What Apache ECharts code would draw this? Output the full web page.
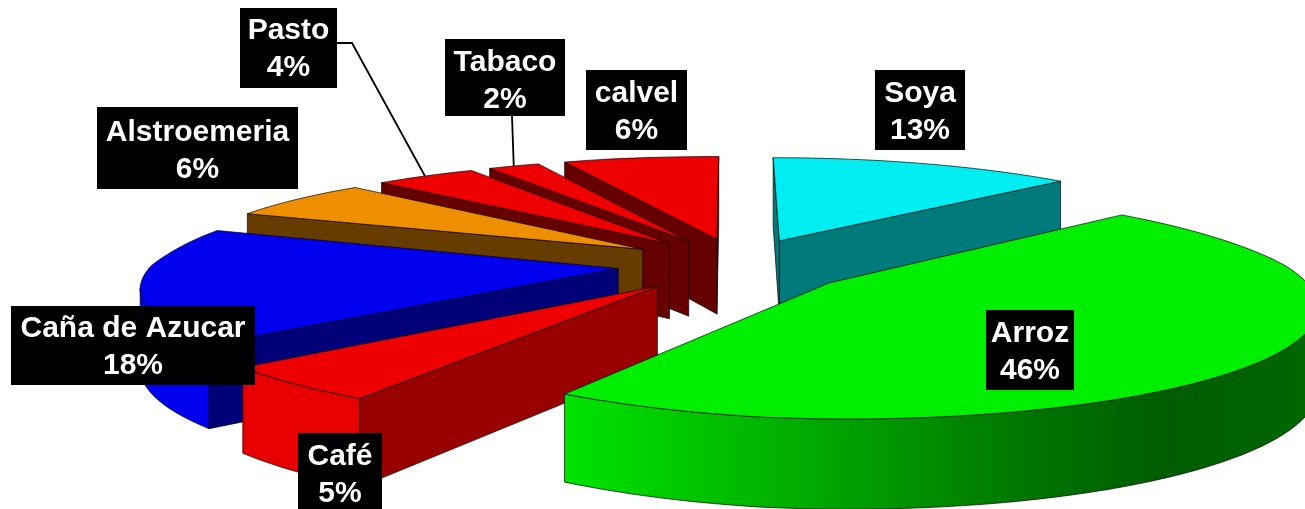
<!DOCTYPE html>
<html><head><meta charset="utf-8">
<style>html,body{margin:0;padding:0;background:#fff}#c{width:1305px;height:509px}</style>
<script src="https://cdn.jsdelivr.net/npm/echarts@6/dist/echarts.min.js"></script>
</head><body><div id="c"></div>
<script>
// ---- data (clockwise from 12 o'clock) ----
const categories = ['Soya','Arroz','Café','Caña de Azucar','Alstroemeria','Pasto','Tabaco','calvel'];
const values = [13,46,5,18,6,4,2,6];
// ---- styling ----
const topColors  = ['#00EEF2','#00EE00','#EE0000','#0000EE','#EE8E00','#EE0000','#EE0000','#EE0000'];
const cutColors  = ['#007A7A','#007000','#990000','#000078','#663C00','#660000','#660000','#660000'];
const rimColors  = ['#00A0A0',
  {type:'linear',x:0,y:0,x2:1,y2:0,colorStops:[{offset:0,color:'#00E400'},{offset:.4,color:'#009C00'},{offset:.62,color:'#007400'},{offset:.8,color:'#005C00'},{offset:1,color:'#006800'}]},
  '#E60000','#0000EE','#663C00','#660000','#660000','#660000'];
const drawOrder = [7,6,5,4,0,3,2,1];
// ---- label boxes [left, top, width, height, text shift] by category ----
const labelBoxes = [[875,70,90,80,2],[986,310,88,80,2],[298,433,84,76,4],[11,306,244,79,1.5],[97,107,201,82,3],[240,8,97,80,1.5],[445,39,120,77,4],[586,70,101,80,2]];
const leaderFrom = {5:[337,43,352,43],6:[512,116]};
// ---- projection ----
const V = {cx:739, cy:265, R:455, Ry:105.3, p:0.174, explode:0.26, H:77, Hs:52};
function warpX(x,y){          // small asymmetry of the original 3-D view
  if(x<0){
    const f = y>0 ? 0.026+0.07*y*Math.min(1,y/0.3) : 0.026+y*(0.105+0.065*x);
    return x*(1+f);
  }
  const w = y<0 ? x*1.02 : x*(1+0.02*Math.max(0,1-2*y));
  return w-0.012*Math.min(1,x/0.05);
}
function warpY(x,y){
  return (x<-0.3&&y>0) ? 5*Math.min(1,-x-0.3)*Math.min(1,y/0.3) : 0;
}
function project(x,y,drop){
  const s = 1/(1+V.p*y);
  return [V.cx+V.R*warpX(x,y)*s, V.cy-V.Ry*y*s+warpY(x,y)+(drop?V.H+(s-1)*V.Hs:0)];
}
const total = values.reduce((a,b)=>a+b,0);
const rad = d=>d*Math.PI/180;
let acc=0;
const arcs = values.map(v=>{const a0=acc/total*360; acc+=v; return [a0,acc/total*360];});
function slicePoints(i){
  const [a0,a1]=arcs[i], m=rad((a0+a1)/2);
  const ox=V.explode*Math.sin(m), oy=V.explode*Math.cos(m);
  const n=Math.max(2,Math.ceil((a1-a0)/2));
  const rim=[];
  for(let k=0;k<=n;k++){const a=rad(a0+(a1-a0)*k/n); rim.push([ox+Math.sin(a),oy+Math.cos(a)]);}
  return {tip:[ox,oy],rim};
}
const line={stroke:'rgba(0,0,0,.85)',lineWidth:0.8};
function poly(pts,fill){return {type:'polygon',shape:{points:pts},style:Object.assign({fill},line)};}
function wall(a,b,fill){
  return poly([project(a[0],a[1]),project(b[0],b[1]),project(b[0],b[1],1),project(a[0],a[1],1)],fill);
}
function renderSlice(params){
  const i=drawOrder[params.dataIndex];
  const {tip,rim}=slicePoints(i);
  const sx=p=>project(p[0],p[1])[0];
  const ch=[];
  if(sx(rim[rim.length-1])>sx(tip)) ch.push(wall(rim[rim.length-1],tip,cutColors[i]));
  if(sx(rim[0])<sx(tip)) ch.push(wall(tip,rim[0],cutColors[i]));
  const vis=[];
  for(let k=0;k<rim.length-1;k++) if(sx(rim[k+1])<sx(rim[k])){ if(!vis.length)vis.push(rim[k]); vis.push(rim[k+1]); }
  if(vis.length>1){
    const up=vis.map(p=>project(p[0],p[1])), dn=vis.map(p=>project(p[0],p[1],1)).reverse();
    ch.push(poly(up.concat(dn),rimColors[i]));
  }
  ch.push(poly([tip].concat(rim).map(p=>project(p[0],p[1])),topColors[i]));
  return {type:'group',children:ch};
}
function renderLabel(params){
  const i=params.dataIndex, b=labelBoxes[i], ch=[];
  if(leaderFrom[i]){
    const {rim}=slicePoints(i), mid=rim[Math.floor(rim.length/2)], e=project(mid[0],mid[1]), f=leaderFrom[i], pts=[];
    for(let k=0;k<f.length;k+=2) pts.push([f[k],f[k+1]]);
    pts.push(e);
    ch.push({type:'polyline',shape:{points:pts},style:{stroke:'#000',lineWidth:1.8,fill:null}});
  }
  ch.push({type:'rect',shape:{x:b[0],y:b[1],width:b[2],height:b[3]},style:{fill:'#000'}});
  ch.push({type:'text',style:{x:b[0]+b[2]/2,y:b[1]+b[3]/2+b[4],text:categories[i]+'\n'+values[i]+'%',
    fill:'#fff',font:'bold 30px "Liberation Sans"',lineHeight:37,align:'center',verticalAlign:'middle'}});
  return {type:'group',children:ch};
}
const chart=echarts.init(document.getElementById('c'),null,{renderer:'canvas'});
chart.setOption({
  backgroundColor:'#fff',animation:false,
  series:[
    {type:'custom',coordinateSystem:'none',silent:true,clip:false,renderItem:renderSlice,data:drawOrder.map(i=>values[i])},
    {type:'custom',coordinateSystem:'none',silent:true,clip:false,renderItem:renderLabel,data:values,z:5}
  ]
});
</script></body></html>
